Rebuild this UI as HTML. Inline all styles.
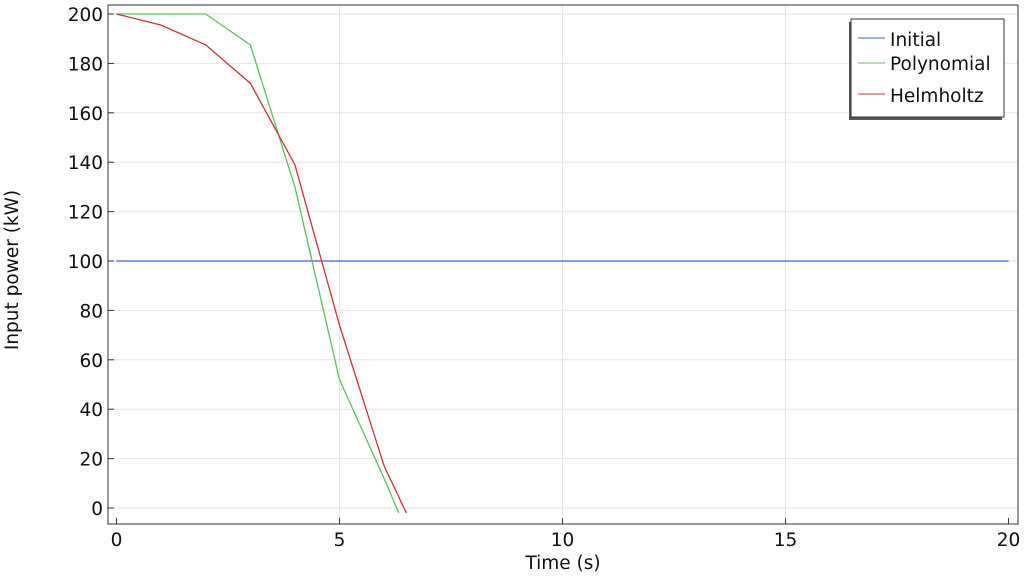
<!DOCTYPE html>
<html><head><style>body{margin:0;background:#fff}svg{display:block;font-family:"DejaVu Sans","Liberation Sans",sans-serif}</style></head><body>
<svg width="1024" height="576" viewBox="0 0 1024 576">
<g stroke="#e6e6e6" stroke-width="1">
<line x1="339.5" y1="5" x2="339.5" y2="524"/><line x1="562.5" y1="5" x2="562.5" y2="524"/><line x1="785.5" y1="5" x2="785.5" y2="524"/>
<line x1="108" y1="63.4" x2="1018" y2="63.4"/><line x1="108" y1="112.8" x2="1018" y2="112.8"/><line x1="108" y1="162.2" x2="1018" y2="162.2"/><line x1="108" y1="211.6" x2="1018" y2="211.6"/><line x1="108" y1="261" x2="1018" y2="261"/><line x1="108" y1="310.4" x2="1018" y2="310.4"/><line x1="108" y1="359.8" x2="1018" y2="359.8"/><line x1="108" y1="409.2" x2="1018" y2="409.2"/><line x1="108" y1="458.6" x2="1018" y2="458.6"/><line x1="108" y1="508" x2="1018" y2="508"/><line x1="108" y1="14" x2="1018" y2="14"/>
</g>
<rect x="108" y="5" width="910" height="519" fill="none" stroke="#333" stroke-width="1"/>
<g stroke="#333"><line x1="116.5" y1="524" x2="116.5" y2="518"/><line x1="339.5" y1="524" x2="339.5" y2="518"/><line x1="562.5" y1="524" x2="562.5" y2="518"/><line x1="785.5" y1="524" x2="785.5" y2="518"/><line x1="1008.5" y1="524" x2="1008.5" y2="518"/>
<line x1="108" y1="14" x2="114" y2="14"/><line x1="108" y1="63.4" x2="114" y2="63.4"/><line x1="108" y1="112.8" x2="114" y2="112.8"/><line x1="108" y1="162.2" x2="114" y2="162.2"/><line x1="108" y1="211.6" x2="114" y2="211.6"/><line x1="108" y1="261" x2="114" y2="261"/><line x1="108" y1="310.4" x2="114" y2="310.4"/><line x1="108" y1="359.8" x2="114" y2="359.8"/><line x1="108" y1="409.2" x2="114" y2="409.2"/><line x1="108" y1="458.6" x2="114" y2="458.6"/><line x1="108" y1="508" x2="114" y2="508"/></g>
<g font-size="18.5" fill="#111" text-anchor="end">
<text x="103" y="21">200</text><text x="103" y="70.4">180</text><text x="103" y="119.8">160</text><text x="103" y="169.2">140</text><text x="103" y="218.6">120</text><text x="103" y="268">100</text><text x="103" y="317.4">80</text><text x="103" y="366.8">60</text><text x="103" y="416.2">40</text><text x="103" y="465.6">20</text><text x="103" y="515">0</text></g>
<g font-size="18.5" fill="#111" text-anchor="middle">
<text x="116.5" y="546">0</text><text x="339.5" y="546">5</text><text x="562.5" y="546">10</text><text x="785.5" y="546">15</text><text x="1008.5" y="546">20</text>
<text x="563" y="569">Time (s)</text>
<text transform="translate(18,270) rotate(-90)">Input power (kW)</text></g>
<line x1="116.5" y1="261" x2="1008.5" y2="261" stroke="#3b5fd6" stroke-width="1.2"/>
<polyline fill="none" stroke="#5cc05c" stroke-width="1.3" points="116.5,14 205.7,14 250.3,44.9 294.9,186.9 339.5,379.6 384.1,478.4 398.8,513"/>
<polyline fill="none" stroke="#cc3333" stroke-width="1.3" points="116.5,14 161.1,25.1 205.7,44.9 250.3,83.2 294.9,164.7 339.5,325.2 384.1,466 406.4,513"/>
<rect x="849" y="22" width="153" height="98" fill="#555"/>
<rect x="851" y="19" width="153" height="98" fill="#fff" stroke="#333"/>
<line x1="858" y1="38" x2="885" y2="38" stroke="#3b5fd6"/><line x1="858" y1="63" x2="885" y2="63" stroke="#5cc05c"/><line x1="858" y1="94" x2="885" y2="94" stroke="#cc3333"/>
<g font-size="18.5" fill="#111"><text x="890" y="46">Initial</text><text x="890" y="70">Polynomial</text><text x="890" y="102">Helmholtz</text></g>
</svg></body></html>
